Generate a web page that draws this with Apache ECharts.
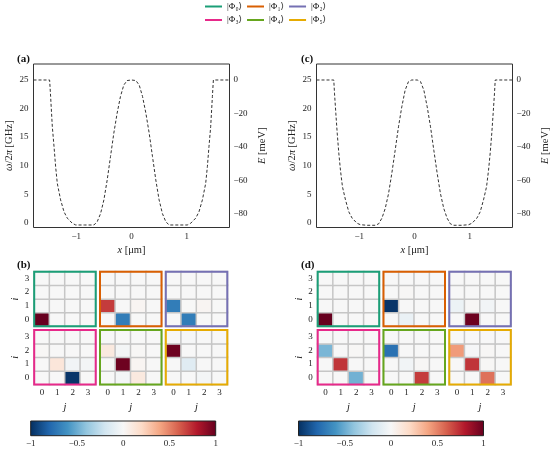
<!DOCTYPE html>
<html><head><meta charset="utf-8">
<script src="https://cdn.jsdelivr.net/npm/echarts@6/dist/echarts.min.js"></script>
<style>html,body{margin:0;padding:0;background:#fff}#c{width:554px;height:450px}</style>
</head><body><div id="c"></div>
<script>
// ---- potential curves (x in µm, value in GHz) ----
const potAx = [-1.775,-1.483,-1.465,-1.434,-1.403,-1.374,-1.344,-1.284,-1.222,-1.163,-1.072,-1.01,-0.85,-0.68,-0.62,-0.56,-0.50,-0.44,-0.38,-0.32,-0.26,-0.20,-0.14,-0.08,0,0.08,0.14,0.20,0.26,0.32,0.38,0.44,0.50,0.56,0.62,0.68,0.85,1.01,1.072,1.163,1.222,1.284,1.344,1.374,1.403,1.434,1.465,1.483,1.775];
const potAy = [25,25,22.1,16.8,13.3,9.8,6.9,4.0,1.9,0.8,-0.1,-0.4,-0.4,-0.4,0.2,1.6,4.0,7.5,11.6,15.7,19.2,22.1,24.1,24.9,25,24.9,24.1,22.1,19.2,15.7,11.6,7.5,4.0,1.6,0.2,-0.4,-0.4,-0.4,-0.1,0.8,1.9,4.0,6.9,9.8,13.3,16.8,22.1,25,25];
const potCx = [-1.775,-1.462,-1.449,-1.425,-1.40,-1.371,-1.341,-1.305,-1.25,-1.19,-1.13,-1.04,-0.98,-0.86,-0.71,-0.65,-0.59,-0.53,-0.47,-0.41,-0.35,-0.29,-0.23,-0.17,-0.11,-0.05,0,0.05,0.11,0.17,0.23,0.29,0.35,0.41,0.47,0.53,0.59,0.65,0.71,0.86,0.98,1.04,1.13,1.19,1.25,1.305,1.341,1.371,1.40,1.425,1.449,1.462,1.775];
const potCy = [25,25,22.7,19.2,15.7,12.2,9.2,6.3,4.0,1.9,0.8,-0.1,-0.35,-0.45,-0.45,-0.2,0.8,2.5,5.1,8.7,12.7,16.8,20.3,23.2,24.7,25,25,25,24.7,23.2,20.3,16.8,12.7,8.7,5.1,2.5,0.8,-0.2,-0.45,-0.45,-0.35,-0.1,0.8,1.9,4.0,6.3,9.2,12.2,15.7,19.2,22.7,25,25];
const ghzTicks = [0,5,10,15,20,25];
const mevTicks = [0,-20,-40,-60,-80];
const xTicks = [-1,0,1];
const ijLabels = ['0','1','2','3'];
const cbTicks = [-1,-0.5,0,0.5,1];
const stateNames = ['|Φ₀⟩','|Φ₁⟩','|Φ₂⟩','|Φ₃⟩','|Φ₄⟩','|Φ₅⟩'];
const stateColors = ['#1b9e77','#d95f02','#7570b3','#e7298a','#66a61e','#e6ab02'];
const rdbu = ['#053061','#2166ac','#4393c3','#92c5de','#d1e5f0','#f7f7f7','#fddbc7','#f4a582','#d6604d','#b2182b','#67001f'];
// ---- amplitude matrices, rows i = 0..3, columns j = 0..3 ----
const b0 = [[1,0,0,0],[0,0,0,0],[0,0,0,0],[0,0,0,0]];
const b1 = [[0,-0.7,0,0],[0.7,0,0.02,0],[0,0,0,0],[0,0,0,0]];
const b2 = [[0,-0.7,0,0],[-0.7,0,0.02,0],[0,0,0,0],[0,0,0,0]];
const b3 = [[0,0,-0.98,0],[0,0.12,-0.03,-0.02],[0.01,0,0,0],[0,0,0,0]];
const b4 = [[0,-0.02,0.1,0],[0,0.98,0.02,0],[0.1,-0.02,0.01,0],[0,0,0,0]];
const b5 = [[0,0,-0.02,0],[0,-0.12,0,0],[0.98,0,0,0],[0,-0.01,0,0]];
const d0 = [[1,0,0,0],[0,0,0,0],[0,0,0,0],[0,0,0,0]];
const d1 = [[0,-0.07,0,0],[-0.98,0,0,0],[0,0.01,0,0],[0,0,0,0]];
const d2 = [[0,0.98,0,0],[-0.06,0.01,-0.03,0],[0,0,0,0],[0,0,0,0]];
const d3 = [[0,0,-0.48,0],[0,0.72,0,0],[-0.46,0,0.01,0],[0,0,0,0]];
const d4 = [[0,0,0.7,0],[0,-0.03,0.01,0],[-0.75,0,0,0],[0,0,0,0]];
const d5 = [[0,0,0.55,0],[0,0.72,0.01,0],[0.43,-0.01,0.01,0],[0,0,0,0]];

const FF = "'Liberation Serif','DejaVu Serif',serif";
const FS = 9;
const NS = 10.5;
const minus = v => String(v).replace('-', '−');
const richI = {i:{fontStyle:'italic', fontFamily:FF, fontSize:NS, color:'#222'}};
const nameStyle = {fontFamily:FF, fontSize:NS, color:'#222', rich:richI};

const grids = [], xAxes = [], yAxes = [], series = [];
// line panels
const linePanels = [{left:33.5, x:potAx, y:potAy}, {left:316.5, x:potCx, y:potCy}];
linePanels.forEach((p, k) => {
  grids.push({left:p.left, top:64, width:196, height:163.5, show:true, borderColor:'#333', borderWidth:1, z:10});
  xAxes.push({type:'value', gridIndex:grids.length-1, min:-1.775, max:1.775,
    axisLine:{show:false}, axisTick:{show:false}, splitLine:{show:false},
    axisLabel:{customValues:xTicks, formatter:minus, fontFamily:FF, fontSize:FS, color:'#222', margin:5},
    name:'{i|x} [μm]', nameLocation:'middle', nameGap:17, nameTextStyle:nameStyle});
  const gi = grids.length-1;
  yAxes.push({type:'value', gridIndex:gi, min:-0.84, max:27.8, position:'left',
    axisLine:{show:false}, axisTick:{show:false}, splitLine:{show:false},
    axisLabel:{customValues:ghzTicks, fontFamily:FF, fontSize:FS, color:'#222', margin:5},
    name:'{i|ω}/2{i|π} [GHz]', nameLocation:'middle', nameRotate:90, nameGap:19, nameTextStyle:nameStyle});
  yAxes.push({type:'value', gridIndex:gi, min:-88.06, max:9.55, position:'right',
    axisLine:{show:false}, axisTick:{show:false}, splitLine:{show:false},
    axisLabel:{customValues:mevTicks, formatter:minus, fontFamily:FF, fontSize:FS, color:'#222', margin:4},
    name:'{i|E} [meV]', nameLocation:'middle', nameRotate:90, nameGap:27, nameTextStyle:nameStyle});
  series.push({type:'line', xAxisIndex:xAxes.length-1, yAxisIndex:yAxes.length-2, showSymbol:false, silent:true,
    data:p.x.map((v,n)=>[v,p.y[n]]), lineStyle:{color:'#333', width:1, type:[3,2]}});
});
// heatmap panels
const heatSets = [
  {lefts:[34.2,100,165.8], mats:[b0,b1,b2,b3,b4,b5]},
  {lefts:[317.7,383.5,449.3], mats:[d0,d1,d2,d3,d4,d5]}
];
const tops = [271.7, 330];
const heatSeriesIdx = [];
heatSets.forEach(hs => {
  hs.mats.forEach((m, k) => {
    const col = k % 3, row = Math.floor(k / 3);
    grids.push({left:hs.lefts[col], top:tops[row], width:61.5, height:54.5, show:true, borderColor:stateColors[k], borderWidth:2, z:10});
    const gi = grids.length-1;
    xAxes.push({type:'category', gridIndex:gi, data:ijLabels, axisLine:{show:false}, axisTick:{show:false}, splitLine:{show:false},
      axisLabel:{show:row===1, fontFamily:FF, fontSize:FS, color:'#222', margin:4},
      name: row===1 ? '{i|j}' : '', nameLocation:'middle', nameGap:17, nameTextStyle:nameStyle});
    yAxes.push({type:'category', gridIndex:gi, data:ijLabels, axisLine:{show:false}, axisTick:{show:false}, splitLine:{show:false},
      axisLabel:{show:col===0, fontFamily:FF, fontSize:FS, color:'#222', margin:5},
      name: col===0 ? '{i|i}' : '', nameLocation:'middle', nameRotate:90, nameGap:11, nameTextStyle:nameStyle});
    const data = [];
    m.forEach((r, i) => r.forEach((v, j) => data.push([j, i, v])));
    heatSeriesIdx.push(series.length);
    series.push({type:'heatmap', xAxisIndex:xAxes.length-1, yAxisIndex:yAxes.length-1, data, silent:true,
      itemStyle:{borderColor:'#c6c6c6', borderWidth:1.5}, emphasis:{disabled:true}});
  });
});
// colorbars
[30.7, 298.5].forEach(left => {
  grids.push({left, top:421, width:185, height:14.7, show:true, borderColor:'#222', borderWidth:1, z:10});
  const gi = grids.length-1;
  xAxes.push({type:'value', gridIndex:gi, min:-1, max:1, interval:0.5, axisLine:{show:false}, axisTick:{show:false}, splitLine:{show:false},
    axisLabel:{formatter:minus, fontFamily:FF, fontSize:FS, color:'#222', margin:3}});
  yAxes.push({type:'value', gridIndex:gi, min:0, max:1, show:false});
  series.push({type:'custom', xAxisIndex:xAxes.length-1, yAxisIndex:yAxes.length-1, silent:true,
    data:[[cbTicks[0], cbTicks[cbTicks.length-1]]],
    renderItem:(params, api) => {
      const p0 = api.coord([api.value(0), 1]);
      const p1 = api.coord([api.value(1), 0]);
      return {type:'rect', shape:{x:p0[0], y:p0[1], width:p1[0]-p0[0], height:p1[1]-p0[1]},
        style:{fill:new echarts.graphic.LinearGradient(0,0,1,0, rdbu.map((c,n)=>({offset:n/(rdbu.length-1), color:c})))}};
    }});
});
// legend dummy series
stateNames.forEach((n, k) => {
  series.push({type:'line', name:n, data:[], xAxisIndex:0, yAxisIndex:0, color:stateColors[k], lineStyle:{color:stateColors[k]}, itemStyle:{color:stateColors[k]}});
});

const legendBase = {left:205, padding:0, itemWidth:17, itemHeight:2, itemGap:5, icon:'rect', selectedMode:false,
  textStyle:{fontFamily:FF, fontSize:FS, color:'#222', width:16}};
const titleStyle = {fontFamily:FF, fontSize:11, fontWeight:'bold', color:'#111'};

const chart = echarts.init(document.getElementById('c'), null, {renderer:'canvas'});
chart.setOption({
  animation:false,
  backgroundColor:'#fff',
  title:[
    {text:'(a)', left:12, top:49, textStyle:titleStyle},
    {text:'(b)', left:12, top:255, textStyle:titleStyle},
    {text:'(c)', left:296, top:49, textStyle:titleStyle},
    {text:'(d)', left:296, top:255, textStyle:titleStyle}
  ],
  legend:[
    Object.assign({}, legendBase, {top:2, data:stateNames.slice(0,3)}),
    Object.assign({}, legendBase, {top:15.5, data:stateNames.slice(3)})
  ],
  visualMap:{type:'continuous', show:false, min:-1, max:1, dimension:2, seriesIndex:heatSeriesIdx, inRange:{color:rdbu}},
  grid:grids, xAxis:xAxes, yAxis:yAxes, series
});
</script></body></html>
